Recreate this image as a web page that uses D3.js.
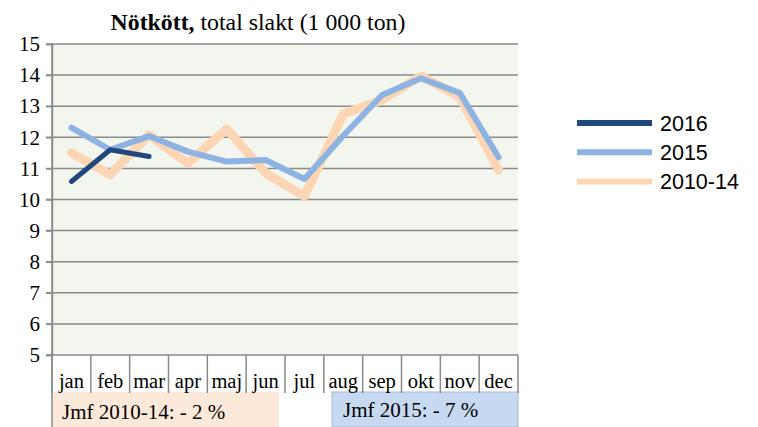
<!DOCTYPE html>
<html>
<head>
<meta charset="utf-8">
<script src="https://cdn.jsdelivr.net/npm/d3@7"></script>
<style>
  body { margin: 0; background: #fff; }
  svg { display: block; }
</style>
</head>
<body>
<div id="chart"></div>
<script>
// Data
const months = ["jan", "feb", "mar", "apr", "maj", "jun", "jul", "aug", "sep", "okt", "nov", "dec"];
const yTicks = [5, 6, 7, 8, 9, 10, 11, 12, 13, 14, 15];
const s2016 = [10.58, 11.6, 11.38];
const s2015 = [12.31, 11.6, 12.04, 11.54, 11.22, 11.27, 10.66, 12.05, 13.36, 13.9, 13.43, 11.36];
const s201014 = [11.5, 10.8, 12.08, 11.16, 12.27, 10.85, 10.1, 12.75, 13.2, 13.97, 13.3, 10.95];
const seriesNames = ["2016", "2015", "2010-14"];
const seriesColors = ["#1F497D", "#8DB3E2", "#FCD5B4"];
const seriesWidths = [5, 6, 9];
const comparisons = ["Jmf 2010-14: - 2 %", "Jmf 2015: - 7 %"];

const width = 758, height = 427;
const plotLeft = 52, plotRight = 518, plotTop = 44, plotBottom = 355;
const serif = "'Liberation Serif', 'Times New Roman', serif";

const svg = d3.select("#chart").append("svg")
    .attr("width", width)
    .attr("height", height);

const x = d3.scaleBand().domain(months).range([plotLeft, plotRight]);
const y = d3.scaleLinear().domain([5, 15]).range([plotBottom, plotTop]);

// Plot background
svg.append("rect")
    .attr("x", plotLeft).attr("y", plotTop)
    .attr("width", plotRight - plotLeft).attr("height", plotBottom - plotTop)
    .attr("fill", "#F3F6EE");

// Comparison boxes
svg.append("rect")
    .attr("x", plotLeft).attr("y", 392)
    .attr("width", 227).attr("height", 35)
    .attr("fill", "#FDE9D9");
svg.append("rect")
    .attr("x", 332).attr("y", 392)
    .attr("width", 186).attr("height", 35)
    .attr("fill", "#C6D9F1")
    .attr("stroke", "#A6B9D1").attr("stroke-width", 1);

svg.append("text")
    .attr("x", 62).attr("y", 419)
    .attr("font-family", serif).attr("font-size", 21)
    .text(comparisons[0]);
svg.append("text")
    .attr("x", 343).attr("y", 417)
    .attr("font-family", serif).attr("font-size", 21)
    .text(comparisons[1]);

// Gridlines
svg.append("g")
    .selectAll("line")
    .data(yTicks)
    .enter()
    .append("line")
    .attr("x1", plotLeft - 6).attr("x2", plotRight)
    .attr("y1", d => y(d)).attr("y2", d => y(d))
    .attr("stroke", "#8A8A8A")
    .attr("stroke-width", 1.5);

// Y axis
const yAxis = svg.append("g")
    .attr("transform", `translate(${plotLeft},0)`)
    .call(d3.axisLeft(y).tickValues(yTicks).tickSize(6).tickPadding(6));
yAxis.select(".domain").attr("stroke", "#8A8A8A").attr("stroke-width", 1.5);
yAxis.selectAll(".tick line").attr("stroke", "#8A8A8A").attr("stroke-width", 1.5);
yAxis.selectAll("text")
    .style("font-family", serif)
    .style("font-size", "21px")
    .attr("fill", "#000");

svg.append("line")
    .attr("x1", plotLeft).attr("x2", plotLeft)
    .attr("y1", plotTop).attr("y2", 427)
    .attr("stroke", "#8A8A8A").attr("stroke-width", 1.5);

// Category separators
const bounds = months.map(m => x(m)).concat([plotRight]);
svg.append("g")
    .selectAll("line")
    .data(bounds)
    .enter()
    .append("line")
    .attr("x1", d => d).attr("x2", d => d)
    .attr("y1", plotBottom).attr("y2", 393)
    .attr("stroke", "#8A8A8A")
    .attr("stroke-width", 1.5);

// Month labels
svg.append("g")
    .selectAll("text")
    .data(months)
    .enter()
    .append("text")
    .attr("x", d => x(d) + x.bandwidth() / 2)
    .attr("y", 388)
    .attr("text-anchor", "middle")
    .attr("font-family", serif).attr("font-size", 20.5)
    .text(d => d);

// Lines
const line = d3.line()
    .x((d, i) => x(months[i]) + x.bandwidth() / 2)
    .y(d => y(d));

const seriesData = [s201014, s2015, s2016];
const order = [2, 1, 0];
svg.append("g")
    .selectAll("path")
    .data(seriesData)
    .enter()
    .append("path")
    .attr("d", line)
    .attr("fill", "none")
    .attr("stroke", (d, i) => seriesColors[order[i]])
    .attr("stroke-width", (d, i) => seriesWidths[order[i]])
    .attr("stroke-linejoin", "round")
    .attr("stroke-linecap", "round");

// Title
const title = svg.append("text")
    .attr("x", 258).attr("y", 30)
    .attr("text-anchor", "middle")
    .attr("font-family", serif).attr("font-size", 23.8);
title.append("tspan").attr("font-weight", "bold").text("Nötkött,");
title.append("tspan").text(" total slakt (1 000 ton)");

// Legend
const legend = svg.append("g")
    .selectAll("g")
    .data(seriesNames)
    .enter()
    .append("g")
    .attr("transform", (d, i) => `translate(577,${123 + i * 29.3})`);
legend.append("line")
    .attr("x1", 0).attr("x2", 75)
    .attr("stroke", (d, i) => seriesColors[i])
    .attr("stroke-width", 6);
legend.append("text")
    .attr("x", 83).attr("y", 7.5)
    .attr("font-family", "'Liberation Sans', Arial, sans-serif")
    .attr("font-size", 21.5)
    .text(d => d);
</script>
</body>
</html>
